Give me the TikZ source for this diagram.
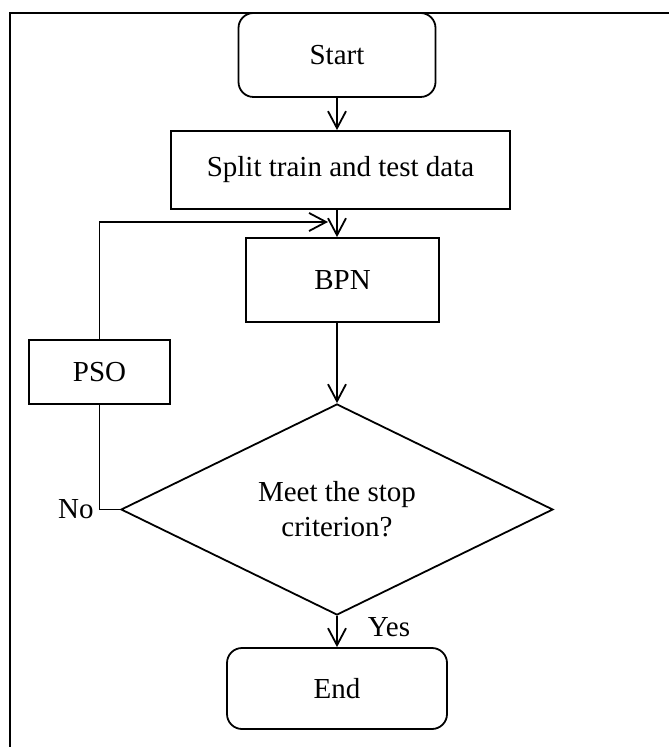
\documentclass[tikz,border=0pt]{standalone}
\usepackage{fontspec}
\setmainfont{Liberation Serif}
\usetikzlibrary{shapes.geometric,arrows.meta}

\begin{document}
\begin{tikzpicture}[x=0.5pt,y=-0.5pt,line width=0.9pt,
  >={Straight Barb[length=8.5pt,width=9pt]},
  font=\fontsize{14.5}{17.5}\selectfont,
  box/.style={draw,inner sep=0pt},
  term/.style={box,rounded corners=7.5pt},
  decide/.style={draw,diamond,aspect=2,align=center,inner sep=0pt},
  descr/.style={inner sep=2.5pt}]
\useasboundingbox (0,0) rectangle (668,747);
\draw[line width=0.75pt] (10,13) rectangle (700,780);

\node[term,minimum width=98.5pt,minimum height=42pt]   (start) at (337,55)    {Start};
\node[box,minimum width=169.5pt,minimum height=39pt]   (split) at (340.5,170) {Split train and test data};
\node[box,minimum width=96.5pt,minimum height=42pt]    (bpn)   at (342.5,280) {BPN};
\node[box,minimum width=70.5pt,minimum height=32pt]    (pso)   at (99.5,372)  {PSO};
\node[decide,minimum width=216pt,minimum height=105.5pt] (crit) at (337,509.5) {Meet the stop\\criterion?};
\node[term,minimum width=110pt,minimum height=40.5pt]  (end)   at (337,688.5) {End};

\coordinate (turn)  at (pso |- crit.west);
\coordinate (merge) at (337,222);

\path[->]
(start.south) edge                                (start.south |- split.north)
(start.south |- split.south) edge                 (start.south |- bpn.north)
(crit.north |- bpn.south) edge                    (crit.north)
(crit.south) edge node[descr,pos=0.36,right=15pt,inner sep=0pt] {Yes} (end.north)
;
\draw (crit.west) -- (turn) -- (pso.south);
\draw[->,shorten >=4.5pt] (pso.north) |- (merge);
\node[descr,anchor=east] (no) at (turn) {No};
\end{tikzpicture}
\end{document}
